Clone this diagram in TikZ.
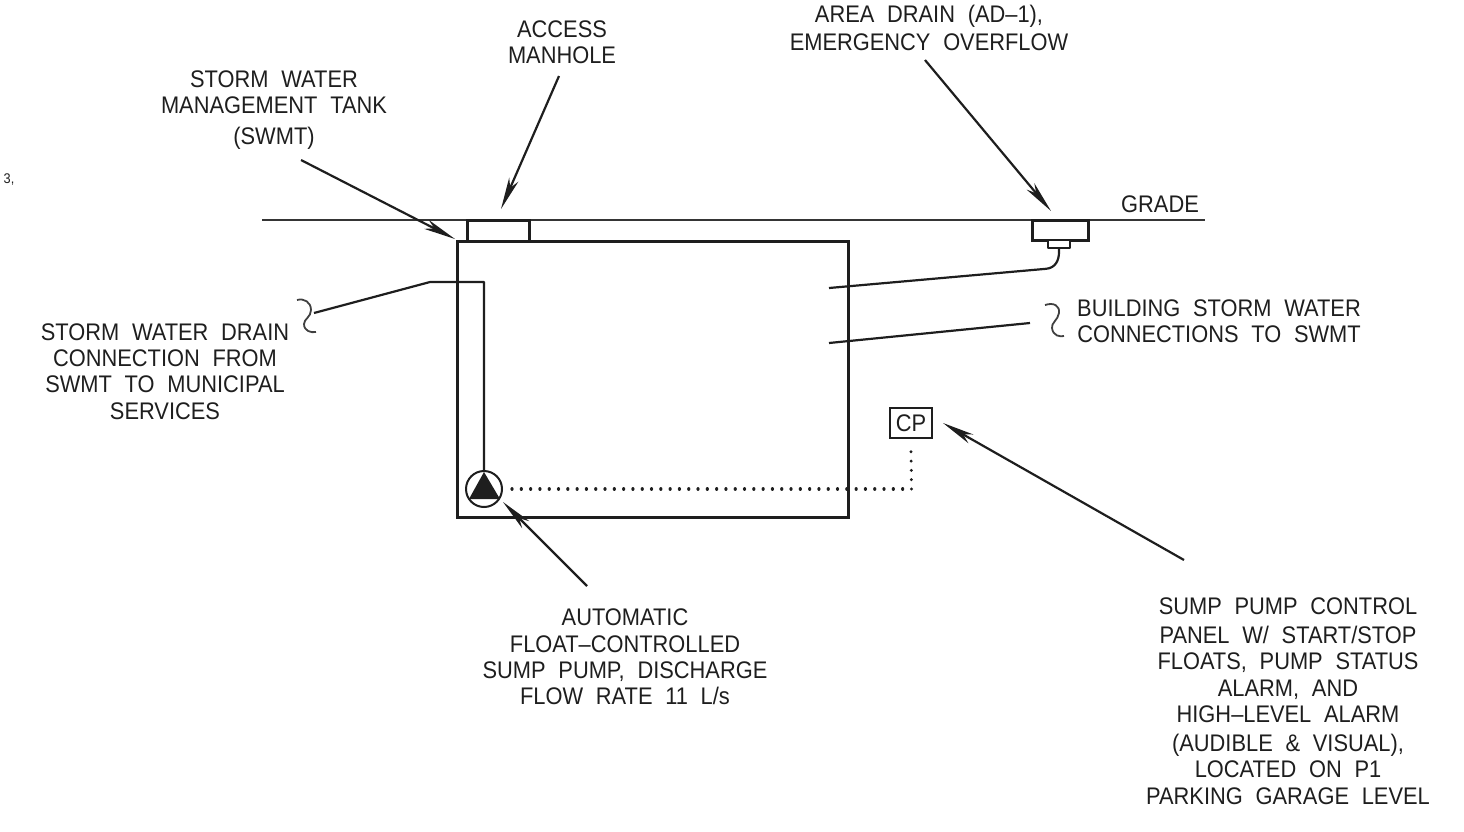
\documentclass[tikz,border=0pt]{standalone}
\usepackage{fontspec}
\setmainfont{Liberation Sans}[WordSpace=2.1,FakeStretch=0.91]
\usetikzlibrary{arrows.meta}
\definecolor{ink}{HTML}{1E1E1E}
\tikzset{
  x=1pt,y=-1pt,
  lbl/.style={align=center,inner sep=0pt,text=ink,font=\fontsize{24}{26.4}\selectfont},
  heavy/.style={draw=ink,line width=3pt},
  thin line/.style={draw=ink!90,line width=1.3pt},
  pipe/.style={draw=ink,line width=2.2pt,line join=round},
  squig/.style={draw=ink!85,line width=1.8pt},
  leader/.style={draw=ink,line width=2.2pt,-{Stealth[length=32pt,width=10pt,inset=9pt]}},
  dots/.style={draw=ink,line width=3.2pt,line cap=round,dash pattern=on 0.05pt off 9.25pt},
}
\begin{document}
\begin{tikzpicture}
\useasboundingbox (0,0) rectangle (1464,831);
% grade
\coordinate (gl) at (262,220);
\coordinate (gr) at (1205,220);
\draw[thin line] (gl) -- (gr);
% tank and structures
\node[heavy,fill=white,minimum width=391pt,minimum height=276pt,inner sep=0pt,outer sep=0pt] (tank) at (652.5,379) {};
\node[heavy,fill=white,minimum width=62pt,minimum height=21pt,inner sep=0pt,outer sep=0pt] (manhole) at (498,230.5) {};
\node[heavy,fill=white,minimum width=56pt,minimum height=20pt,inner sep=0pt,outer sep=0pt] (drain) at (1060,230) {};
\node[pipe,fill=white,minimum width=22pt,minimum height=8pt,inner sep=0pt,outer sep=0pt] (trap) at (1059,244) {};
% pump
\node[circle,draw=ink,line width=2pt,minimum size=36pt,inner sep=0pt,outer sep=0pt] (pump) at (484,489) {};
\fill[ink] (484,472) -- (500,499) -- (469,499) -- cycle;
% control panel
\node[draw=ink,line width=2.2pt,minimum width=42pt,minimum height=30pt,inner sep=0pt,outer sep=0pt,text=ink,font=\fontsize{24}{26}\selectfont] (cp) at (911,423) {CP};
% pipes
\coordinate (p1) at (829,288);
\coordinate (p2) at (829,343);
\coordinate (p3) at (1030,323);
\coordinate (p4) at (314,313);
\coordinate (p5) at (430,282);
\coordinate (p6) at (484,282);
\coordinate (p7) at (1046,268.8);
\draw[pipe] (trap.south) -- ++(0,4) .. controls (1059,261) and (1055,268) .. (p7) -- (p1);
\draw[pipe] (p2) -- (p3);
\draw[pipe] (p4) -- (p5) -- (p6) -- (pump.north);
% squiggles
\coordinate (s1) at (1045,305);
\coordinate (s2) at (1064,336);
\coordinate (s3) at (297,300);
\coordinate (s4) at (316,332);
\draw[squig] (s1) .. controls (1054,302) and (1060,306) .. (1059,313) .. controls (1058,320) and (1051,323) .. (1052,328) .. controls (1053,336) and (1060,337) .. (s2);
\draw[squig] (s3) .. controls (304,298) and (311,302) .. (311,310) .. controls (311,317) and (304,319) .. (304,324) .. controls (304,331) and (311,333) .. (s4);
% control wire
\coordinate (w1) at (512,489);
\coordinate (w2) at (911.5,489);
\draw[dots] (w1) -- (w2);
\draw[dots] (w2) -- (cp.south |- 0,449);
% labels
\node[lbl] (tswmt) at (274,110) {STORM WATER\\MANAGEMENT TANK\\[5pt](SWMT)};
\node[lbl] (taccess) at (562,42.5) {ACCESS\\MANHOLE};
\node[lbl] (tarea) at (929,28) {AREA DRAIN (AD--1),\\[2pt]EMERGENCY OVERFLOW};
\node[lbl] (tgrade) at (1160,204) {GRADE};
\node[lbl] (tdrain) at (165,371.5) {STORM WATER DRAIN\\CONNECTION FROM\\SWMT TO MUNICIPAL\\SERVICES};
\node[lbl] (tbuild) at (1219,321) {BUILDING STORM WATER\\CONNECTIONS TO SWMT};
\node[lbl] (tpump) at (625,657) {AUTOMATIC\\FLOAT--CONTROLLED\\SUMP PUMP, DISCHARGE\\FLOW RATE 11 L/s};
\node[lbl] (tsump) at (1288,701) {SUMP PUMP CONTROL\\[2.5pt]PANEL W/ START/STOP\\FLOATS, PUMP STATUS\\ALARM, AND\\HIGH--LEVEL ALARM\\[2.5pt](AUDIBLE \& VISUAL),\\LOCATED ON P1\\PARKING GARAGE LEVEL};
\node[inner sep=0pt,text=ink,font=\fontsize{14}{15}\selectfont] (stray) at (9,180) {3,};
% leader arrows
\coordinate (a1s) at (301,160); \coordinate (a1e) at (455,239);
\coordinate (a2s) at (559,76);  \coordinate (a2e) at (501,209);
\coordinate (a3s) at (925,60);  \coordinate (a3e) at (1051,211);
\coordinate (a4s) at (587,586); \coordinate (a4e) at (503,502);
\coordinate (a5s) at (1184,560);\coordinate (a5e) at (943,423);
\draw[leader] (a1s) -- (a1e);
\draw[leader] (a2s) -- (a2e);
\draw[leader] (a3s) -- (a3e);
\draw[leader] (a4s) -- (a4e);
\draw[leader] (a5s) -- (a5e);
\end{tikzpicture}
\end{document}
